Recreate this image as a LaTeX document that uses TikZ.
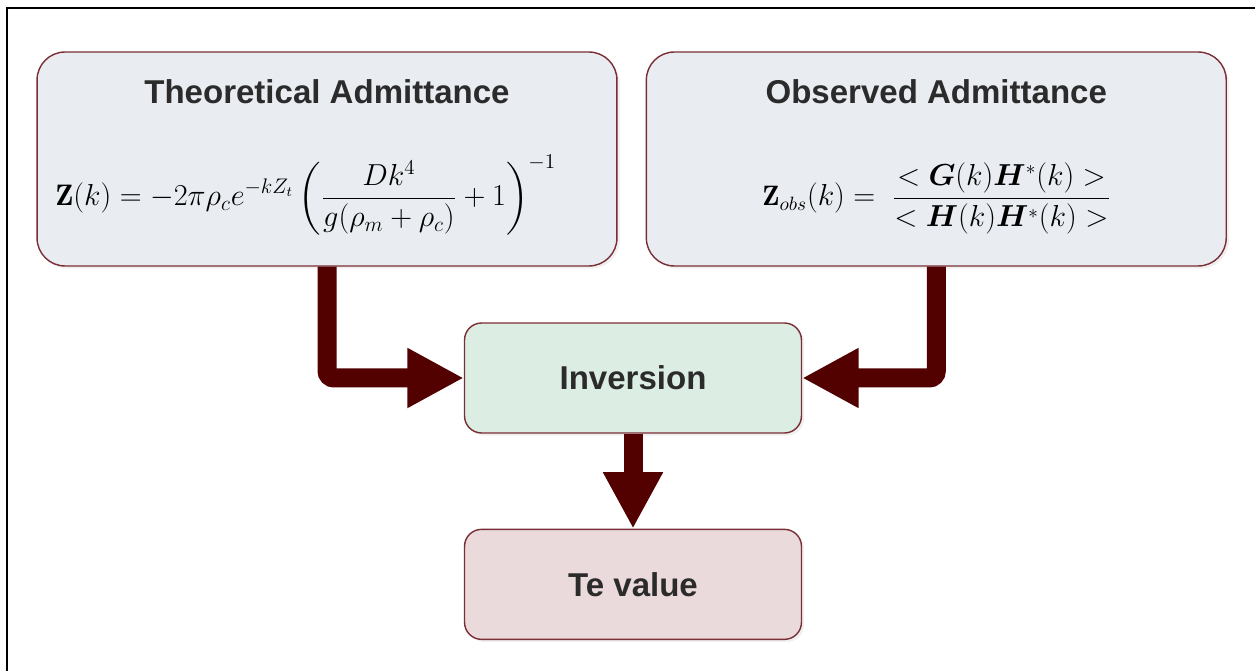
\documentclass[tikz,border=0pt]{standalone}
\usepackage{amsmath}
\usepackage{bm}
\usepackage{fontspec}
\newfontfamily\boxfont{Liberation Sans}
\usepackage{tikz}
\usetikzlibrary{arrows.meta, positioning, shadows}
\definecolor{framebrd}{HTML}{7A2E36}
\definecolor{arrowred}{HTML}{520000}
\definecolor{admfill}{HTML}{E9ECF1}
\definecolor{invfill}{HTML}{DCEDE3}
\definecolor{tefill}{HTML}{EADADB}
\definecolor{titlegray}{HTML}{2B2B2B}
\tikzset{
  bigbox/.style   = {draw=framebrd, line width=0.8pt, rounded corners=0.56cm,
                     fill=admfill, minimum width=11.6cm, minimum height=4.28cm,
                     drop shadow={opacity=0.12, shadow xshift=1.5pt, shadow yshift=-1.5pt}},
  smallbox/.style = {draw=framebrd, line width=0.8pt, rounded corners=0.34cm,
                     minimum width=6.74cm, minimum height=2.2cm,
                     font=\boxfont\bfseries\fontsize{18.8}{22}\selectfont, text=titlegray,
                     drop shadow={opacity=0.12, shadow xshift=1.5pt, shadow yshift=-1.5pt}},
  boxtitle/.style = {anchor=base, inner sep=0pt,
                     font=\boxfont\bfseries\fontsize{18.8}{22}\selectfont, text=titlegray},
  formula/.style  = {anchor=base west, inner sep=0pt, font=\fontsize{16}{19}\selectfont},
  flow/.style     = {draw=arrowred, line width=0.38cm, rounded corners=4pt,
                     -{Triangle[length=1.13cm, width=1.12cm]}},
}

\begin{document}
\begin{tikzpicture}[x=0.02cm, y=-0.02cm]
    \useasboundingbox (0,0) rectangle (1255,671);
    % --- outer frame --------------------------------------------------------
    \draw[line width=1.1pt] (7,671) -- (7,8) -- (1255,8);

    % --- admittance boxes ---------------------------------------------------
    \node[bigbox] (theo) at (327,159) {};
    \node[bigbox, right=0.56cm of theo] (obs) {};
    \node[boxtitle] (theotitle) at ([yshift=-1.04cm]theo.north) {Theoretical Admittance};
    \node[boxtitle] (obstitle) at ([yshift=-1.04cm]obs.north) {Observed Admittance};
    \node[formula, font=\fontsize{16.9}{20}\selectfont] (theoeq) at (55,206)
      {$\displaystyle \mathbf{Z}(k) = -2\pi\rho_c e^{-kZ_t}
        \left(\frac{Dk^4}{g(\rho_m+\rho_c)}+1\right)^{-1}$};
    \node[formula] (obseq) at (762,206)
      {$\displaystyle \mathbf{Z}_{obs}(k) =\ 
        \frac{<\bm{G}(k)\bm{H}^{*}(k)>}{<\bm{H}(k)\bm{H}^{*}(k)>}$};

    % --- inversion and result -----------------------------------------------
    \node[smallbox, fill=invfill] (inv) at (633,378) {Inversion};
    \node[smallbox, fill=tefill, below=1.9cm of inv] (teval) {Te value};

    % --- arrows -------------------------------------------------------------
    \draw[flow] (theo.south) |- (inv.west);
    \draw[flow] (obs.south) |- (inv.east);
    \draw[flow] (inv.south) -- (teval.north);
\end{tikzpicture}
\end{document}
